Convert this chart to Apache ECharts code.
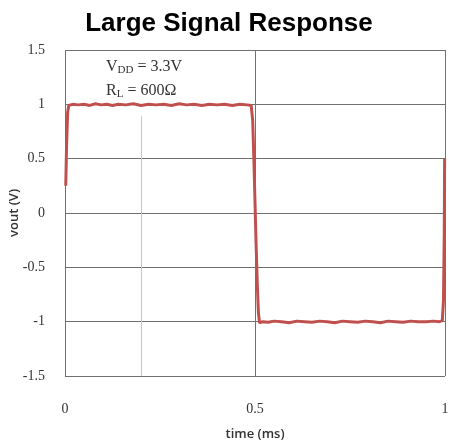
<!DOCTYPE html>
<html>
<head>
<meta charset="utf-8">
<script src="https://cdn.jsdelivr.net/npm/echarts@6/dist/echarts.min.js"></script>
<style>html,body{margin:0;padding:0;background:#fff}#c{width:449px;height:447px}</style>
</head>
<body>
<div id="c"></div>
<script>
var titleText = 'Large Signal Response';
var xName = 'time (ms)';
var yName = 'vout (V)';
var xTicks = [0, 0.5, 1];
var yTicks = [-1.5, -1, -0.5, 0, 0.5, 1, 1.5];
var timeMs = [0.002, 0.004, 0.007, 0.010, 0.020, 0.035, 0.050, 0.065, 0.080, 0.095, 0.110, 0.125, 0.140, 0.160, 0.180, 0.200, 0.220, 0.240, 0.260, 0.280, 0.300, 0.320, 0.340, 0.360, 0.380, 0.400, 0.420, 0.440, 0.460, 0.480, 0.490, 0.494, 0.497, 0.500, 0.503, 0.506, 0.509, 0.512, 0.520, 0.535, 0.550, 0.570, 0.590, 0.610, 0.630, 0.650, 0.670, 0.690, 0.710, 0.730, 0.750, 0.770, 0.790, 0.810, 0.830, 0.850, 0.870, 0.890, 0.910, 0.930, 0.950, 0.970, 0.985, 0.993, 0.996, 0.998, 0.999];
var vout = [0.25, 0.6, 0.93, 0.99, 1.0, 0.995, 1.0, 0.99, 1.005, 0.995, 1.0, 0.99, 1.0, 0.995, 1.005, 0.99, 1.0, 0.995, 1.0, 0.99, 1.005, 0.995, 1.0, 0.99, 1.0, 0.995, 1.0, 0.99, 1.0, 0.995, 0.99, 0.85, 0.5, 0.1, -0.3, -0.65, -0.92, -1.01, -1.0, -1.005, -0.995, -1.0, -1.01, -0.995, -1.0, -1.005, -0.995, -1.0, -1.01, -0.995, -1.0, -1.005, -0.995, -1.0, -1.01, -0.995, -1.0, -1.005, -0.995, -1.0, -1.0, -0.995, -1.0, -0.99, -0.8, -0.2, 0.5];
var minorLineX = 0.2;
var minorLineTop = 0.89;
var noteLines = ['V{s|DD} = 3.3V', 'R{s|L} = 600Ω'];

var seriesData = timeMs.map(function (t, i) { return [t, vout[i]]; });
var chart = echarts.init(document.getElementById('c'));
chart.setOption({
  animation: false,
  title: {
    text: titleText, left: 224, top: 6, textAlign: 'center',
    textStyle: { fontFamily: 'Liberation Sans', fontWeight: 'bold', fontSize: 26, color: '#000' }
  },
  grid: { left: 65, right: 4, top: 50, bottom: 71, outerBoundsMode: 'none', containLabel: false },
  xAxis: {
    type: 'value', min: 0, max: 1, interval: 0.5,
    name: xName, nameLocation: 'middle', nameGap: 52, nameMoveOverlap: false,
    nameTextStyle: { fontFamily: 'Open Sans', fontSize: 13, fontWeight: 600, color: '#333' },
    axisLine: { show: false }, axisTick: { show: false },
    axisLabel: { margin: 26, fontFamily: 'Liberation Serif', fontSize: 14, color: '#333',
      formatter: function (v) { return xTicks.indexOf(v) >= 0 ? String(v) : ''; } },
    splitLine: { show: true, lineStyle: { color: '#707070', width: 1 } }
  },
  yAxis: {
    type: 'value', min: -1.5, max: 1.5, interval: 0.5,
    name: yName, nameLocation: 'middle', nameGap: 44, nameRotate: 90, nameMoveOverlap: false,
    nameTextStyle: { fontFamily: 'Open Sans', fontSize: 13, fontWeight: 600, color: '#333' },
    axisLine: { show: false }, axisTick: { show: false },
    axisLabel: { margin: 20, fontFamily: 'Liberation Serif', fontSize: 14, color: '#333',
      formatter: function (v) { return yTicks.indexOf(v) >= 0 ? String(v) : ''; } },
    splitLine: { show: true, lineStyle: { color: '#707070', width: 1 } }
  },
  series: [
    {
      type: 'line', data: [], silent: true,
      markLine: {
        symbol: 'none', silent: true, label: { show: false },
        lineStyle: { color: '#c8c8c8', width: 1, type: 'solid' },
        data: [[{ coord: [minorLineX, -1.5] }, { coord: [minorLineX, minorLineTop] }]]
      }
    },
    {
      type: 'line', data: seriesData, showSymbol: false, smooth: false,
      lineStyle: { color: '#c0504d', width: 3 }, z: 5
    }
  ],
  graphic: [{
    type: 'text', left: 106, top: 55,
    style: {
      text: noteLines.join('\n'), fontFamily: 'Liberation Serif', fontSize: 16, fill: '#333',
      lineHeight: 24,
      rich: { s: { fontSize: 11, fontFamily: 'Liberation Serif', fill: '#333', padding: [7, 0, 0, 0] } }
    }
  }]
});
</script>
</body>
</html>
